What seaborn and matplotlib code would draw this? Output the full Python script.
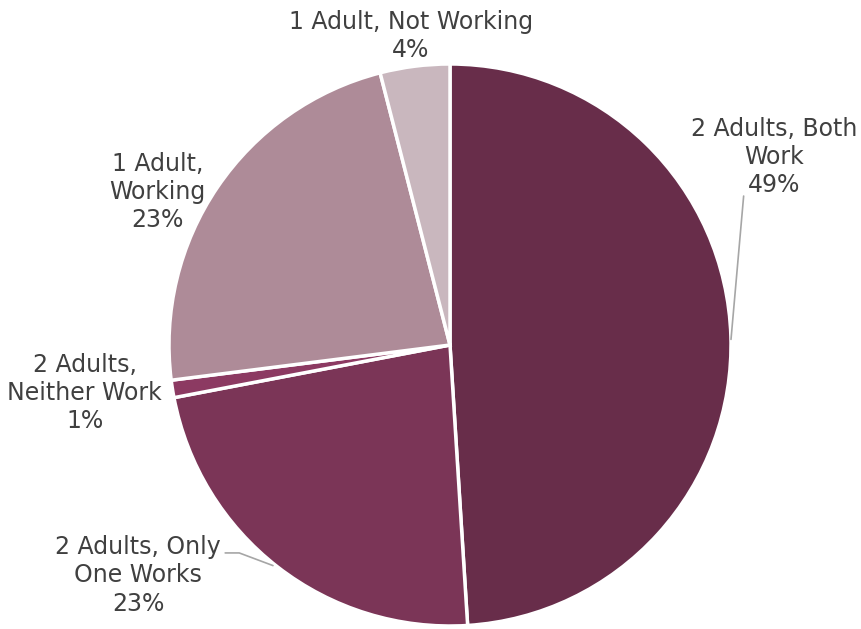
import numpy as np
import matplotlib
matplotlib.use("Agg")
import matplotlib.pyplot as plt
import seaborn as sns

# ----------------------------------------------------------
# Data
# ----------------------------------------------------------
categories = ["2 Adults, Both\nWork", "2 Adults, Only\nOne Works",
              "2 Adults,\nNeither Work", "1 Adult,\nWorking",
              "1 Adult, Not Working"]
shares = [49, 23, 1, 23, 4]
colors = ["#682D4A", "#7B3557", "#8C3A62", "#AE8B98", "#C9B7BE"]

# label centres (data units, pie radius = 1)
label_xy = [(1.155, 0.67), (-1.11, -0.82), (-1.30, -0.17),
            (-1.042, 0.545), (-0.14, 1.10)]
# leader lines for the labels sitting away from the pie
leaders = {0: [(1.045, 0.53), (1.0, 0.02)],
           1: [(-0.80, -0.74), (-0.75, -0.74), (-0.63, -0.785)]}

# ----------------------------------------------------------
# Plot
# ----------------------------------------------------------
sns.set_theme(style="white")
plt.rcParams["font.family"] = ["DejaVu Sans"]

fig = plt.figure(figsize=(8.61, 6.29), dpi=100)
ax = fig.add_axes([0, 0, 1, 1])
R = 281.0
ax.axis("off")

ax.pie(shares, colors=colors, startangle=90, counterclock=False,
       radius=1.0, center=(0, 0),
       wedgeprops=dict(edgecolor="white", linewidth=2.5))
ax.set_xlim(-450 / R, (861 - 450) / R)
ax.set_ylim(-(629 - 345) / R, 345 / R)
ax.set_aspect("auto")

for i, (cat, val) in enumerate(zip(categories, shares)):
    x, y = label_xy[i]
    ax.text(x, y, f"{cat}\n{val}%", ha="center", va="center",
            fontsize=17, color="#404040", linespacing=1.22)

for pts in leaders.values():
    xs, ys = zip(*pts)
    ax.plot(xs, ys, color="#A6A6A6", lw=1.2)

fig.savefig("out.png", dpi=100)
plt.close(fig)
